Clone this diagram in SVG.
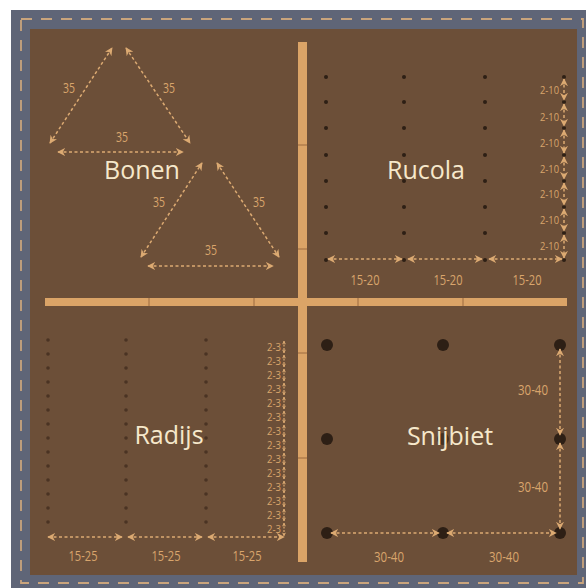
<svg xmlns="http://www.w3.org/2000/svg" width="586" height="588" viewBox="0 0 586 588">
<defs>
<style>
.big{font-family:"Open Sans","Noto Sans",sans-serif;font-size:25px;fill:#f6e8cb;text-anchor:middle}
.lbl{font-family:"Open Sans","Noto Sans",sans-serif;font-size:14px;fill:#d9a56c;text-anchor:middle}
.sm{font-family:"Open Sans","Noto Sans",sans-serif;font-size:11.5px;fill:#d9a56c;text-anchor:end}
.dim{fill:none;stroke:#dcaa72;stroke-width:1.5;stroke-dasharray:3 2.5;marker-start:url(#ah);marker-end:url(#ah)}
.dimS{fill:none;stroke:#dcaa72;stroke-width:1.2;stroke-dasharray:2 1.5;marker-start:url(#ahs);marker-end:url(#ahs)}
.dot{fill:#2d1f15}
.rdot{fill:#4a3323}
.bar{fill:#dba467}
.sep{stroke:#9c6a40;stroke-width:1}
</style>
<marker id="ah" viewBox="0 0 10 10" refX="9" refY="5" markerWidth="8" markerHeight="8" markerUnits="userSpaceOnUse" orient="auto-start-reverse"><path d="M0,0 L10,5 L0,10 L3,5 z" fill="#dcaa72"/></marker>
<marker id="ahs" viewBox="0 0 10 10" refX="9" refY="5" markerWidth="4" markerHeight="4" markerUnits="userSpaceOnUse" orient="auto-start-reverse"><path d="M0,0 L10,5 L0,10 L3,5 z" fill="#dcaa72"/></marker>
</defs>
<rect x="0" y="0" width="586" height="588" fill="#ffffff"/>
<g id="frame">
<rect x="11" y="10" width="575" height="578" fill="#5f6577"/>
<rect x="21" y="19" width="562" height="564" fill="none" stroke="#c9a47c" stroke-width="1.8" stroke-dasharray="11 9"/>
<rect x="30" y="29" width="547" height="546" fill="#6c4f38"/>
</g>
<g id="bars">
<rect class="bar" x="298" y="42" width="9" height="520"/>
<rect class="bar" x="45" y="298" width="522" height="8"/>
<line class="sep" x1="149" y1="298" x2="149" y2="306"/>
<line class="sep" x1="254" y1="298" x2="254" y2="306"/>
<line class="sep" x1="358" y1="298" x2="358" y2="306"/>
<line class="sep" x1="463" y1="298" x2="463" y2="306"/>
<line class="sep" x1="298" y1="145" x2="307" y2="145"/>
<line class="sep" x1="298" y1="249" x2="307" y2="249"/>
<line class="sep" x1="298" y1="353" x2="307" y2="353"/>
<line class="sep" x1="298" y1="458" x2="307" y2="458"/>
</g>
<g id="bonen">
<text class="big" x="142" y="179">Bonen</text>
<text class="lbl" x="69" y="93" textLength="12" lengthAdjust="spacingAndGlyphs">35</text>
<text class="lbl" x="169" y="93" textLength="12" lengthAdjust="spacingAndGlyphs">35</text>
<text class="lbl" x="122" y="142" textLength="12" lengthAdjust="spacingAndGlyphs">35</text>
<text class="lbl" x="159" y="207" textLength="12" lengthAdjust="spacingAndGlyphs">35</text>
<text class="lbl" x="259" y="207" textLength="12" lengthAdjust="spacingAndGlyphs">35</text>
<text class="lbl" x="211" y="255" textLength="12" lengthAdjust="spacingAndGlyphs">35</text>
</g>
<g id="rucola">
<g class="dot">
<circle cx="326" cy="77" r="2"/><circle cx="326" cy="102" r="2"/><circle cx="326" cy="128" r="2"/><circle cx="326" cy="155" r="2"/><circle cx="326" cy="181" r="2"/><circle cx="326" cy="207" r="2"/><circle cx="326" cy="233" r="2"/><circle cx="326" cy="260" r="2"/>
<circle cx="404" cy="77" r="2"/><circle cx="404" cy="102" r="2"/><circle cx="404" cy="128" r="2"/><circle cx="404" cy="155" r="2"/><circle cx="404" cy="181" r="2"/><circle cx="404" cy="207" r="2"/><circle cx="404" cy="233" r="2"/><circle cx="404" cy="260" r="2"/>
<circle cx="485" cy="77" r="2"/><circle cx="485" cy="102" r="2"/><circle cx="485" cy="128" r="2"/><circle cx="485" cy="155" r="2"/><circle cx="485" cy="181" r="2"/><circle cx="485" cy="207" r="2"/><circle cx="485" cy="233" r="2"/><circle cx="485" cy="260" r="2"/>
<circle cx="564" cy="77" r="2"/><circle cx="564" cy="102" r="2"/><circle cx="564" cy="128" r="2"/><circle cx="564" cy="155" r="2"/><circle cx="564" cy="181" r="2"/><circle cx="564" cy="207" r="2"/><circle cx="564" cy="233" r="2"/><circle cx="564" cy="260" r="2"/>
</g>
<text class="big" x="426" y="179">Rucola</text>
<text class="sm" x="559" y="94" textLength="19" lengthAdjust="spacingAndGlyphs">2-10</text>
<text class="sm" x="559" y="121" textLength="19" lengthAdjust="spacingAndGlyphs">2-10</text>
<text class="sm" x="559" y="147" textLength="19" lengthAdjust="spacingAndGlyphs">2-10</text>
<text class="sm" x="559" y="173" textLength="19" lengthAdjust="spacingAndGlyphs">2-10</text>
<text class="sm" x="559" y="198" textLength="19" lengthAdjust="spacingAndGlyphs">2-10</text>
<text class="sm" x="559" y="224" textLength="19" lengthAdjust="spacingAndGlyphs">2-10</text>
<text class="sm" x="559" y="250" textLength="19" lengthAdjust="spacingAndGlyphs">2-10</text>
<text class="lbl" x="365" y="285" textLength="29" lengthAdjust="spacingAndGlyphs">15-20</text>
<text class="lbl" x="448" y="285" textLength="29" lengthAdjust="spacingAndGlyphs">15-20</text>
<text class="lbl" x="527" y="285" textLength="29" lengthAdjust="spacingAndGlyphs">15-20</text>
</g>
<g id="radijs">
<g class="rdot">
<circle cx="48" cy="340" r="1.8"/><circle cx="48" cy="354" r="1.8"/><circle cx="48" cy="368" r="1.8"/><circle cx="48" cy="382" r="1.8"/><circle cx="48" cy="396" r="1.8"/><circle cx="48" cy="410" r="1.8"/><circle cx="48" cy="424" r="1.8"/><circle cx="48" cy="438" r="1.8"/><circle cx="48" cy="452" r="1.8"/><circle cx="48" cy="466" r="1.8"/><circle cx="48" cy="480" r="1.8"/><circle cx="48" cy="494" r="1.8"/><circle cx="48" cy="508" r="1.8"/><circle cx="48" cy="522" r="1.8"/>
<circle cx="126" cy="340" r="1.8"/><circle cx="126" cy="354" r="1.8"/><circle cx="126" cy="368" r="1.8"/><circle cx="126" cy="382" r="1.8"/><circle cx="126" cy="396" r="1.8"/><circle cx="126" cy="410" r="1.8"/><circle cx="126" cy="424" r="1.8"/><circle cx="126" cy="438" r="1.8"/><circle cx="126" cy="452" r="1.8"/><circle cx="126" cy="466" r="1.8"/><circle cx="126" cy="480" r="1.8"/><circle cx="126" cy="494" r="1.8"/><circle cx="126" cy="508" r="1.8"/><circle cx="126" cy="522" r="1.8"/>
<circle cx="206" cy="340" r="1.8"/><circle cx="206" cy="354" r="1.8"/><circle cx="206" cy="368" r="1.8"/><circle cx="206" cy="382" r="1.8"/><circle cx="206" cy="396" r="1.8"/><circle cx="206" cy="410" r="1.8"/><circle cx="206" cy="424" r="1.8"/><circle cx="206" cy="438" r="1.8"/><circle cx="206" cy="452" r="1.8"/><circle cx="206" cy="466" r="1.8"/><circle cx="206" cy="480" r="1.8"/><circle cx="206" cy="494" r="1.8"/><circle cx="206" cy="508" r="1.8"/><circle cx="206" cy="522" r="1.8"/>
</g>
<text class="big" x="169" y="444">Radijs</text>
<g>
<text class="sm" x="281" y="351" textLength="14" lengthAdjust="spacingAndGlyphs">2-3</text><text class="sm" x="281" y="365" textLength="14" lengthAdjust="spacingAndGlyphs">2-3</text><text class="sm" x="281" y="379" textLength="14" lengthAdjust="spacingAndGlyphs">2-3</text><text class="sm" x="281" y="393" textLength="14" lengthAdjust="spacingAndGlyphs">2-3</text><text class="sm" x="281" y="407" textLength="14" lengthAdjust="spacingAndGlyphs">2-3</text><text class="sm" x="281" y="421" textLength="14" lengthAdjust="spacingAndGlyphs">2-3</text><text class="sm" x="281" y="435" textLength="14" lengthAdjust="spacingAndGlyphs">2-3</text><text class="sm" x="281" y="449" textLength="14" lengthAdjust="spacingAndGlyphs">2-3</text><text class="sm" x="281" y="463" textLength="14" lengthAdjust="spacingAndGlyphs">2-3</text><text class="sm" x="281" y="477" textLength="14" lengthAdjust="spacingAndGlyphs">2-3</text><text class="sm" x="281" y="491" textLength="14" lengthAdjust="spacingAndGlyphs">2-3</text><text class="sm" x="281" y="505" textLength="14" lengthAdjust="spacingAndGlyphs">2-3</text><text class="sm" x="281" y="519" textLength="14" lengthAdjust="spacingAndGlyphs">2-3</text><text class="sm" x="281" y="533" textLength="14" lengthAdjust="spacingAndGlyphs">2-3</text>
</g>
<text class="lbl" x="83" y="561" textLength="29" lengthAdjust="spacingAndGlyphs">15-25</text>
<text class="lbl" x="166" y="561" textLength="29" lengthAdjust="spacingAndGlyphs">15-25</text>
<text class="lbl" x="247" y="561" textLength="29" lengthAdjust="spacingAndGlyphs">15-25</text>
</g>
<g id="snijbiet">
<g class="dot">
<circle cx="327" cy="345" r="6"/><circle cx="443" cy="345" r="6"/><circle cx="560" cy="345" r="6"/>
<circle cx="327" cy="439" r="6"/><circle cx="443" cy="439" r="6" opacity="0.6"/><circle cx="560" cy="439" r="6"/>
<circle cx="327" cy="533" r="6"/><circle cx="443" cy="533" r="6"/><circle cx="560" cy="533" r="6"/>
</g>
<text class="big" x="450" y="445">Snijbiet</text>
<text class="lbl" x="533" y="395" textLength="30" lengthAdjust="spacingAndGlyphs">30-40</text>
<text class="lbl" x="533" y="492" textLength="30" lengthAdjust="spacingAndGlyphs">30-40</text>
<text class="lbl" x="389" y="562" textLength="30" lengthAdjust="spacingAndGlyphs">30-40</text>
<text class="lbl" x="504" y="562" textLength="30" lengthAdjust="spacingAndGlyphs">30-40</text>
</g>
<g id="connectors">
<line class="dim" x1="50" y1="143" x2="112" y2="48"/>
<line class="dim" x1="126" y1="48" x2="190" y2="143"/>
<line class="dim" x1="58" y1="152" x2="183" y2="152"/>
<line class="dim" x1="141" y1="257" x2="202" y2="163"/>
<line class="dim" x1="217" y1="163" x2="279" y2="257"/>
<line class="dim" x1="148" y1="266" x2="273" y2="266"/>
<line class="dim" x1="564" y1="79" x2="564" y2="100"/>
<line class="dim" x1="564" y1="104" x2="564" y2="126"/>
<line class="dim" x1="564" y1="130" x2="564" y2="153"/>
<line class="dim" x1="564" y1="157" x2="564" y2="179"/>
<line class="dim" x1="564" y1="183" x2="564" y2="205"/>
<line class="dim" x1="564" y1="209" x2="564" y2="231"/>
<line class="dim" x1="564" y1="235" x2="564" y2="258"/>
<line class="dim" x1="328" y1="259" x2="402" y2="259"/>
<line class="dim" x1="408" y1="259" x2="482" y2="259"/>
<line class="dim" x1="489" y1="259" x2="562" y2="259"/>
<line class="dimS" x1="284" y1="341" x2="284" y2="353"/>
<line class="dimS" x1="284" y1="355" x2="284" y2="367"/>
<line class="dimS" x1="284" y1="369" x2="284" y2="381"/>
<line class="dimS" x1="284" y1="383" x2="284" y2="395"/>
<line class="dimS" x1="284" y1="397" x2="284" y2="409"/>
<line class="dimS" x1="284" y1="411" x2="284" y2="423"/>
<line class="dimS" x1="284" y1="425" x2="284" y2="437"/>
<line class="dimS" x1="284" y1="439" x2="284" y2="451"/>
<line class="dimS" x1="284" y1="453" x2="284" y2="465"/>
<line class="dimS" x1="284" y1="467" x2="284" y2="479"/>
<line class="dimS" x1="284" y1="481" x2="284" y2="493"/>
<line class="dimS" x1="284" y1="495" x2="284" y2="507"/>
<line class="dimS" x1="284" y1="509" x2="284" y2="521"/>
<line class="dimS" x1="284" y1="523" x2="284" y2="536"/>
<line class="dim" x1="48" y1="537" x2="122" y2="537"/>
<line class="dim" x1="128" y1="537" x2="202" y2="537"/>
<line class="dim" x1="208" y1="537" x2="284" y2="537"/>
<line class="dim" x1="560" y1="349" x2="560" y2="435"/>
<line class="dim" x1="560" y1="443" x2="560" y2="529"/>
<line class="dim" x1="331" y1="533" x2="439" y2="533"/>
<line class="dim" x1="447" y1="533" x2="556" y2="533"/>
</g>
</svg>
